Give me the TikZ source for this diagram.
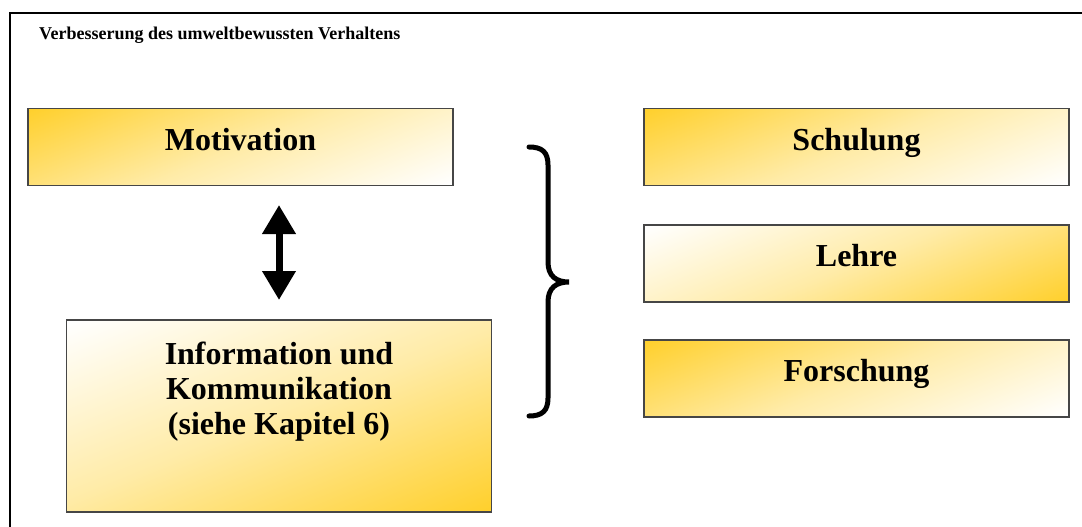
\documentclass[tikz,border=0pt]{standalone}
\usepackage{fontspec}
\setmainfont{Liberation Serif}
\usetikzlibrary{arrows.meta}
\definecolor{boxgold}{RGB}{255,208,45}
\definecolor{boxedge}{RGB}{70,70,70}
% diagonal gold-to-white fill used by all panels
\pgfdeclareverticalshading{goldfade}{100bp}{%
  color(0bp)=(white); color(18bp)=(white);
  color(50bp)=(boxgold!42); color(82bp)=(boxgold); color(100bp)=(boxgold)}
\begin{document}
\begin{tikzpicture}[x=1pt,y=-1pt,
  panel/.style={draw=boxedge, line width=1.4pt, minimum width=425pt,
    minimum height=77pt, inner sep=0pt,
    font=\fontsize{32}{37}\selectfont\bfseries,
    text height=22pt, text depth=16pt},
  warm/.style={panel, shade, shading=goldfade, shading angle=22},
  cool/.style={panel, shade, shading=goldfade, shading angle=202},
  bigtext/.style={font=\fontsize{32}{35}\selectfont\bfseries, align=center, inner sep=0pt},
]
\useasboundingbox (0,0) rectangle (1082,527);
\fill[white] (0,0) rectangle (1082,527);

% outer frame (only its top and left sides fall inside the page)
\coordinate (frameL) at (10,527);
\coordinate (frameC) at (10,13);
\coordinate (frameR) at (1082,13);
\draw[line width=2pt] (frameL) -- (frameC) -- (frameR);

% heading
\node[anchor=base west, inner sep=0pt, font=\fontsize{18}{22}\selectfont\bfseries]
  (title) at (39,40) {Verbesserung des umweltbewussten Verhaltens};

% left column
\node[warm] (mot) at (240.5,147) {Motivation};
\node[cool, minimum height=192pt] (info) at (279,416) {};
\node[bigtext, anchor=north] (infotext) at (279,342)
  {Information und\\Kommunikation\\(siehe Kapitel 6)};

% two-way arrow between the left boxes
\coordinate (arrT) at (279,205);
\coordinate (arrB) at (279,300);
\draw[line width=7pt,
  {Triangle[width=32pt,length=29pt]}-{Triangle[width=32pt,length=29pt]}]
  (arrT) -- (arrB);

% curly brace
\draw[line width=5pt, line cap=round]
  (529,147) .. controls (542,147) and (548,152) .. (548,165)
  -- (548,262) .. controls (548,276) and (556,282) .. (569,282)
  .. controls (556,282) and (548,288) .. (548,302)
  -- (548,398) .. controls (548,411) and (542,416) .. (529,416);

% right column
\node[warm] (schul) at (856.5,147) {Schulung};
\node[cool] (lehre) at (856.5,263.5) {Lehre};
\node[warm] (forsch) at (856.5,378.5) {Forschung};
\end{tikzpicture}
\end{document}
